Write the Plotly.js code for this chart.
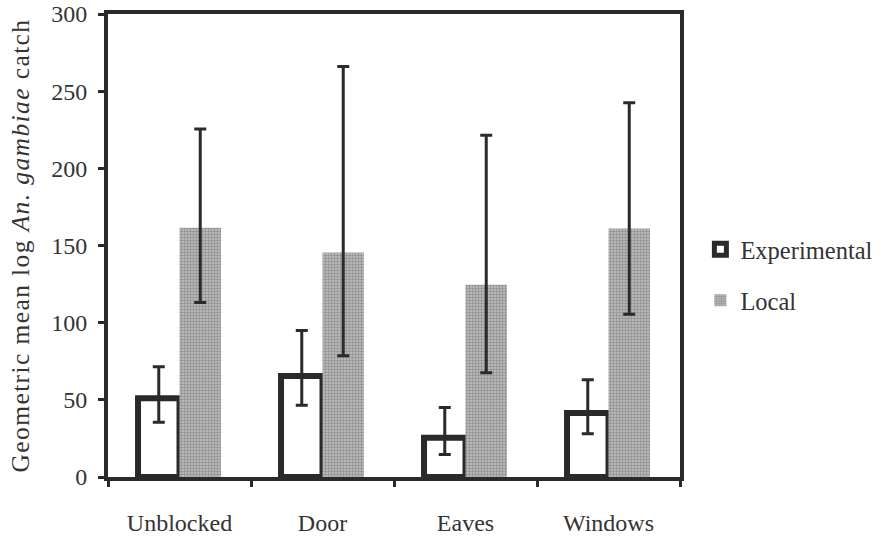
<!DOCTYPE html>
<html>
<head>
<meta charset="utf-8">
<script src="https://cdn.plot.ly/plotly-3.0.1.min.js"></script>
<style>
html,body{margin:0;padding:0;background:#fff;}
#chart{width:881px;height:539px;}
#chart .ytitle{letter-spacing:1.4px;}
</style>
</head>
<body>
<div id="chart"></div>
<script>
const categories = ["Unblocked", "Door", "Eaves", "Windows"];
const experimental = [51, 65.5, 25.5, 41.5];
const experimentalUpper = [71.5, 95, 45, 63];
const experimentalLower = [35.5, 46.5, 14.5, 28];
const local = [161.5, 145.5, 124.5, 161];
const localUpper = [225.5, 266, 221.5, 242.5];
const localLower = [113, 78.5, 67.5, 105.5];

const plus = (u, v) => u.map((x, i) => x - v[i]);
const minus = (v, l) => v.map((x, i) => x - l[i]);

const errStyle = {color: '#2a2a2a', thickness: 3, width: 6};

const traces = [
  {
    type: 'bar', name: 'Experimental', x: categories, y: experimental,
    legendgroup: 'a',
    marker: {color: '#ffffff', line: {color: '#2a2a2a', width: 6}},
    error_y: Object.assign({type: 'data', symmetric: false,
      array: plus(experimentalUpper, experimental),
      arrayminus: minus(experimental, experimentalLower)}, errStyle)
  },
  {
    type: 'bar', name: 'Local', x: categories, y: local,
    legendgroup: 'b',
    marker: {color: '#ababab', line: {width: 0},
      pattern: {shape: '.', fgcolor: '#8e8e8e', bgcolor: '#c4c4c4', size: 3, solidity: 0.5}},
    error_y: Object.assign({type: 'data', symmetric: false,
      array: plus(localUpper, local),
      arrayminus: minus(local, localLower)}, errStyle)
  }
];

const fam = 'Liberation Serif, Times New Roman, serif';
const txt = '#333';

const layout = {
  width: 881, height: 539,
  margin: {l: 108, r: 201, t: 14, b: 62},
  paper_bgcolor: '#fff', plot_bgcolor: '#fff',
  font: {family: fam, color: txt, size: 24},
  barmode: 'group', bargap: 0.42, bargroupgap: 0,
  showlegend: true,
  legend: {xref: 'container', yref: 'container', x: 0.795, y: 0.579,
    xanchor: 'left', yanchor: 'top',
    font: {family: fam, size: 24.5, color: txt},
    traceorder: 'grouped', tracegroupgap: 16, itemwidth: 30},
  xaxis: {
    type: 'category', range: [-0.5, 3.5],
    showline: true, linewidth: 4, linecolor: '#2a2a2a', mirror: true,
    ticks: 'outside', tickson: 'boundaries', ticklen: 6, tickwidth: 3, tickcolor: '#2a2a2a',
    showgrid: false, zeroline: false, ticklabelstandoff: 21,
    tickfont: {family: fam, size: 24, color: txt}
  },
  yaxis: {
    range: [0, 300], tickvals: [0, 50, 100, 150, 200, 250, 300],
    showline: true, linewidth: 4, linecolor: '#2a2a2a', mirror: true,
    ticks: 'outside', ticklen: 6, tickwidth: 3, tickcolor: '#2a2a2a',
    showgrid: false, zeroline: false, ticklabelstandoff: 6,
    tickfont: {family: fam, size: 24, color: txt},
    title: {text: 'Geometric mean log <i>An. gambiae</i> catch\u00a0\u00a0\u00a0',
      font: {family: fam, size: 25.5, color: txt}, standoff: 15}
  }
};

Plotly.newPlot('chart', traces, layout, {displayModeBar: false, staticPlot: true});
</script>
</body>
</html>
